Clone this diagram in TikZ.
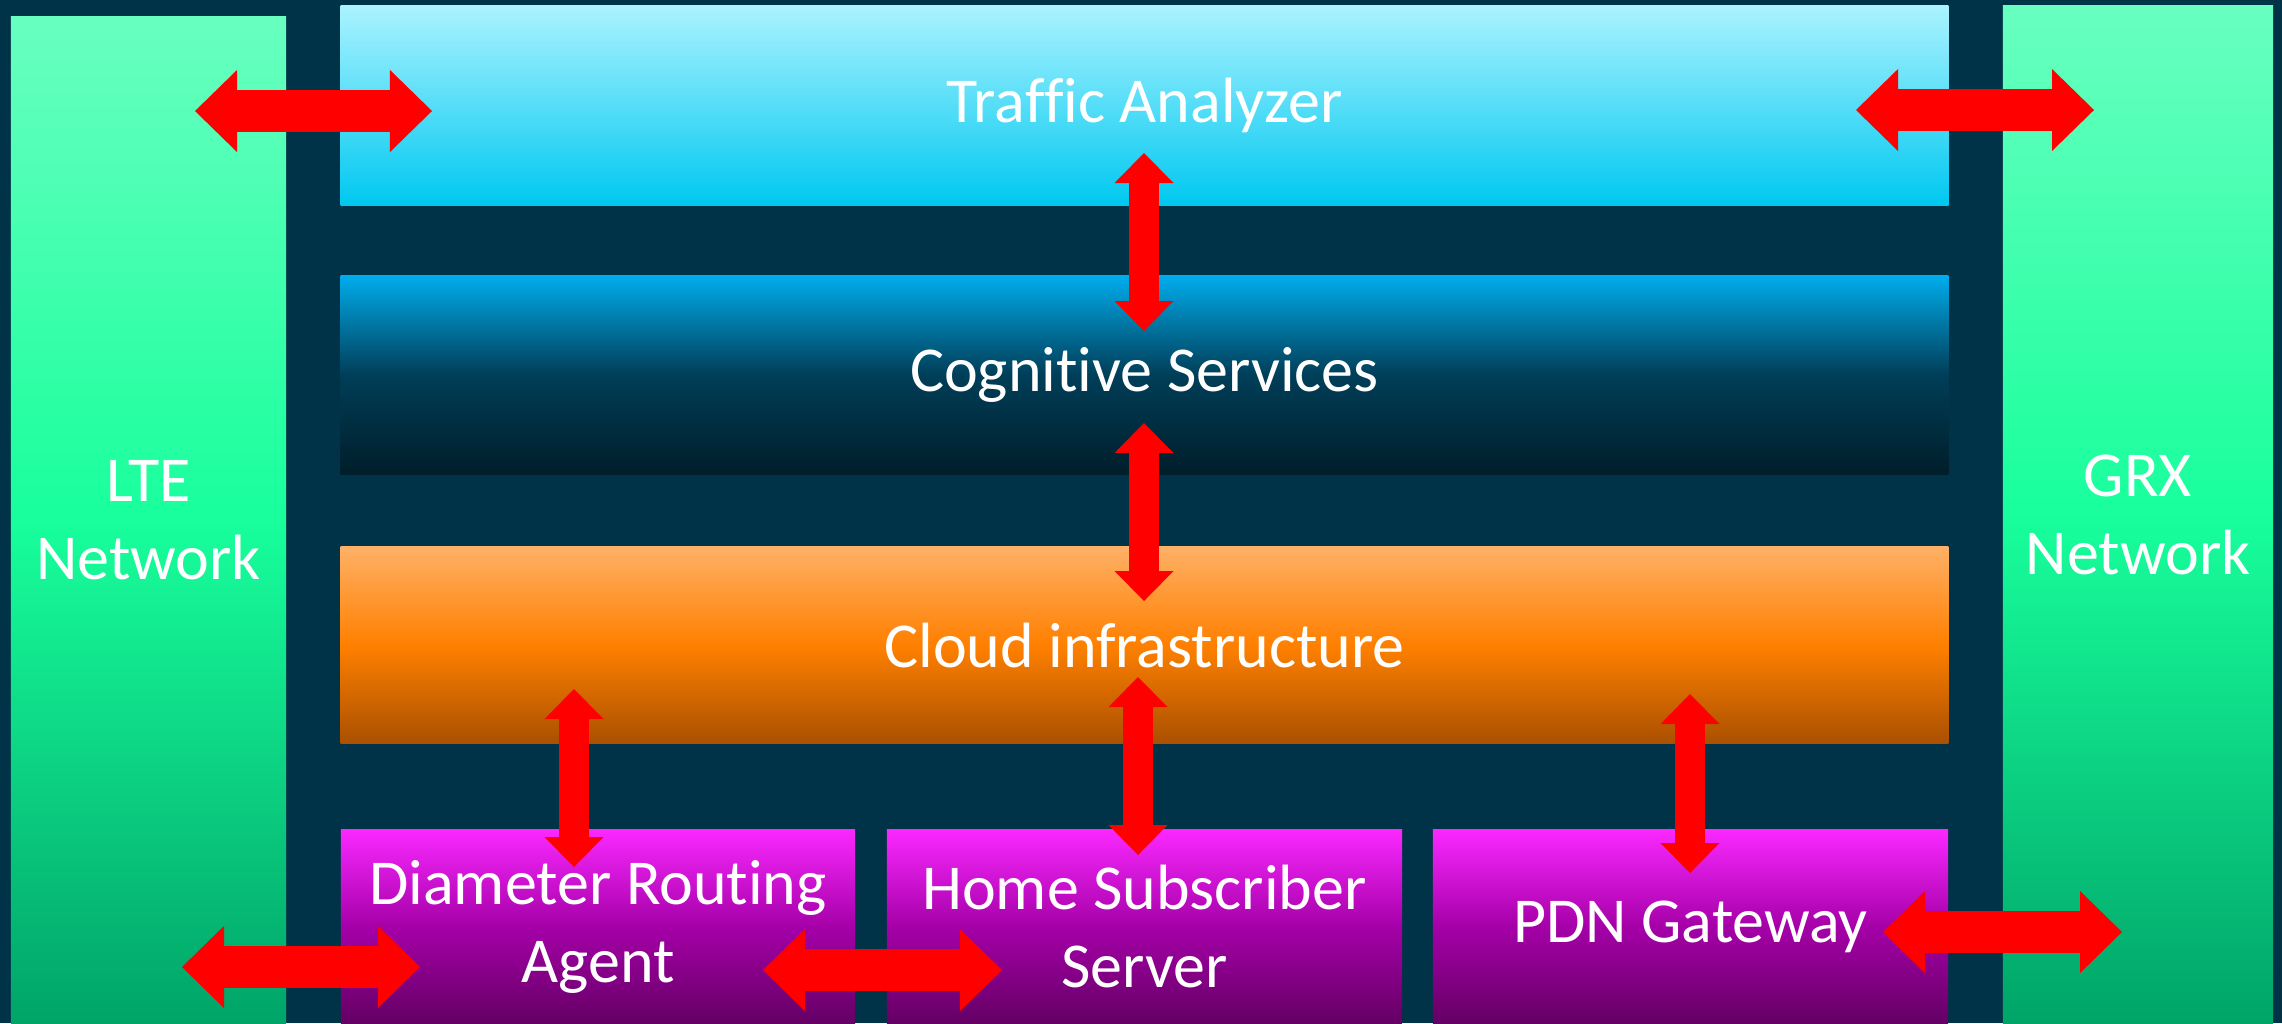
\documentclass[tikz,border=0pt]{standalone}
\usepackage{fontspec}
\setmainfont{Carlito}[Ligatures=NoCommon]
\usetikzlibrary{arrows.meta}
\definecolor{bgteal}{RGB}{0,51,71}
\definecolor{greenT}{RGB}{104,255,192}
\definecolor{greenM}{RGB}{24,255,156}
\definecolor{greenB}{RGB}{0,164,104}
\definecolor{cyanT}{RGB}{170,243,255}
\definecolor{cyanB}{RGB}{0,200,240}
\definecolor{blueT}{RGB}{0,172,236}
\definecolor{blueM}{RGB}{0,62,88}
\definecolor{blueB}{RGB}{0,30,42}
\definecolor{orangeT}{RGB}{255,176,102}
\definecolor{orangeM}{RGB}{255,128,0}
\definecolor{orangeB}{RGB}{170,80,0}
\definecolor{purpleT}{RGB}{250,40,255}
\definecolor{purpleM}{RGB}{165,0,168}
\definecolor{purpleB}{RGB}{100,0,100}

\begin{document}
\begin{tikzpicture}[x=0.01cm, y=-0.01cm,
    panel/.style={inner sep=0pt, outer sep=0pt, text=white, align=center,
      font=\fontsize{18.2}{22.2}\selectfont},
    sidepanel/.style={panel, top color=greenT, bottom color=greenB, middle color=greenM},
    layer/.style={panel, minimum width=16.07cm},
    unit/.style={panel, minimum width=5.15cm, minimum height=1.93cm,
      top color=purpleT, bottom color=purpleB, middle color=purpleM},
    bigtip/.tip={Triangle[width=0.82cm 0 0, length=0.42cm 0 0, line width=0pt]},
    smalltip/.tip={Triangle[width=0.59cm 0 0, length=0.30cm 0 0, line width=0pt]},
    bigarrow/.style={draw=red, line width=0.42cm, bigtip-bigtip},
    smallarrow/.style={draw=red, line width=0.30cm, smalltip-smalltip}]
  %%%%% START %%%%%

  \fill[bgteal] (0,0) rectangle (2282,1023);
  \useasboundingbox (0,0) rectangle (2282,1023);

  % side networks
  \node[sidepanel, minimum width=2.75cm, minimum height=10.06cm] (lte) at (148.5,520) {LTE\\Network};
  \node[sidepanel, minimum width=2.70cm, minimum height=10.17cm] (grx) at (2138,514.5) {GRX\\Network};

  % layers
  \node[layer, minimum height=1.99cm, top color=cyanT, bottom color=cyanB] (traffic) at (1144.5,105.5) {Traffic Analyzer};
  \node[layer, minimum height=1.98cm, top color=blueT, bottom color=blueB, middle color=blueM] (cognitive) at (1144.5,375) {Cognitive Services};
  \node[layer, minimum height=1.96cm, top color=orangeT, bottom color=orangeB, middle color=orangeM] (cloud) at (1144.5,645) {Cloud infrastructure};

  % core units
  \node[unit, minimum width=5.14cm] (dra) at (598,926.5) {Diameter Routing\\Agent};
  \node[unit] (hss) at (1144.5,926.5) {Home Subscriber\\Server};
  \node[unit] (pdn) at (1690.5,926.5) {PDN Gateway};

  % arrow ends
  \coordinate (lte-a) at (195,111);      \coordinate (traffic-a) at (432,111);
  \coordinate (traffic-b) at (1856,110); \coordinate (grx-a) at (2094,110);
  \coordinate (traffic-c) at (1144,153); \coordinate (cognitive-a) at (1144,331);
  \coordinate (cognitive-b) at (1144,423); \coordinate (cloud-a) at (1144,601);
  \coordinate (cloud-b) at (574,689);    \coordinate (dra-a) at (574,867);
  \coordinate (cloud-c) at (1138,677);   \coordinate (hss-a) at (1138,855);
  \coordinate (cloud-d) at (1690,694);   \coordinate (pdn-a) at (1690,873);
  \coordinate (lte-b) at (182,967);      \coordinate (dra-b) at (420,967);
  \coordinate (dra-c) at (763,970);      \coordinate (hss-b) at (1002,970);
  \coordinate (pdn-b) at (1883,932);     \coordinate (grx-b) at (2122,932);

  \draw[bigarrow] (lte-a) -- (traffic-a);
  \draw[bigarrow] (traffic-b) -- (grx-a);
  \draw[smallarrow] (traffic-c) -- (cognitive-a);
  \draw[smallarrow] (cognitive-b) -- (cloud-a);
  \draw[smallarrow] (cloud-b) -- (dra-a);
  \draw[smallarrow] (cloud-c) -- (hss-a);
  \draw[smallarrow] (cloud-d) -- (pdn-a);
  \draw[bigarrow] (lte-b) -- (dra-b);
  \draw[bigarrow] (dra-c) -- (hss-b);
  \draw[bigarrow] (pdn-b) -- (grx-b);

  %%%%% END %%%%%
\end{tikzpicture}
\end{document}
